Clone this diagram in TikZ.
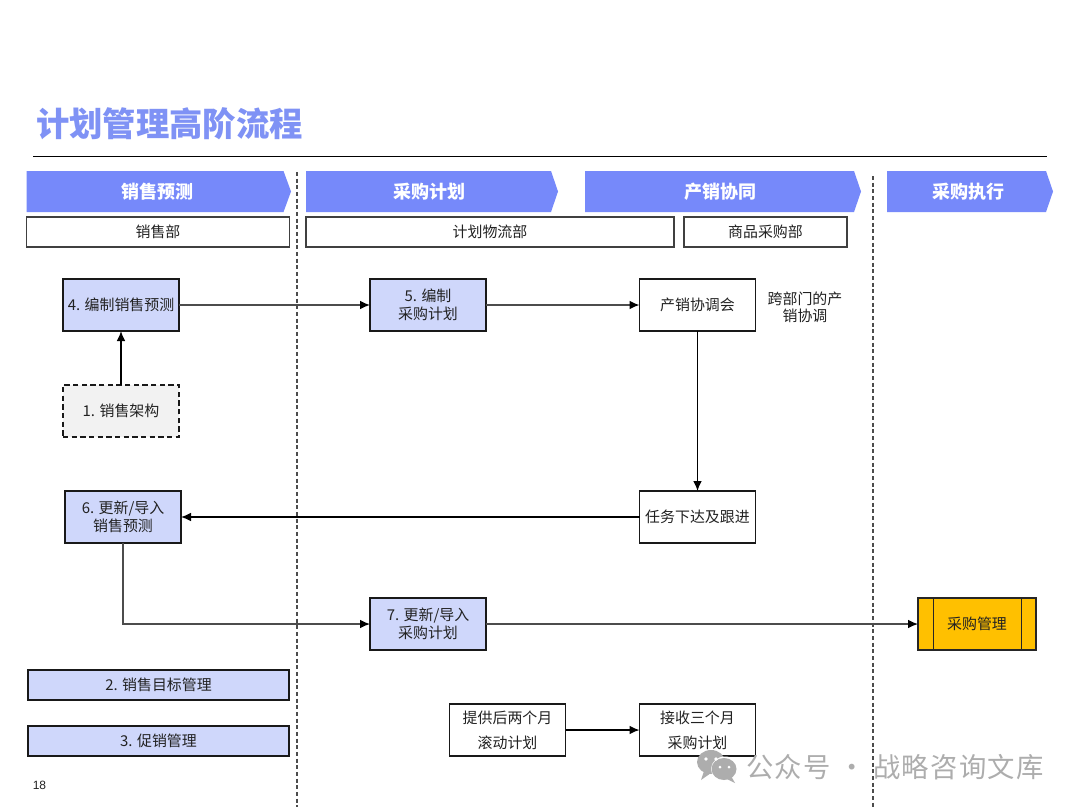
\documentclass[tikz,border=0pt]{standalone}
\usepackage{fontspec}
\setmainfont{Noto Sans CJK SC}
\newfontfamily\latinfont{Liberation Sans}
\newfontfamily\markfont[LetterSpace=5]{Noto Sans CJK SC}
\usetikzlibrary{arrows.meta,positioning}
\definecolor{headblue}{HTML}{7689FA}
\definecolor{titleblue}{HTML}{7F92F5}
\definecolor{paleblue}{HTML}{CFD7FB}
\definecolor{palegray}{HTML}{F2F2F2}
\definecolor{amber}{HTML}{FFC000}
\definecolor{inkdark}{HTML}{222222}
\definecolor{markgray}{HTML}{ADADAD}
\tikzset{
  x=0.75pt,y=-0.75pt,
  px/.style 2 args={minimum width=#1*0.75pt,minimum height=#2*0.75pt,inner sep=0pt,outer sep=0pt},
  basebox/.style={draw=black!90,line width=1pt,align=center,text=inkdark,font=\fontsize{11.2pt}{13.5pt}\selectfont},
  bluebox/.style={basebox,fill=paleblue},
  whitebox/.style={basebox,fill=white},
  dashbox/.style={basebox,fill=palegray,dash pattern=on 4pt off 2.5pt},
  spacedbox/.style={whitebox,font=\fontsize{11.2pt}{18.5pt}\selectfont},
  ownerbox/.style={draw=black!75,line width=0.8pt,fill=white,text=inkdark,font=\fontsize{11.2pt}{13.5pt}\selectfont},
  headtext/.style={text=white,font=\fontsize{13.5pt}{16pt}\selectfont\bfseries},
  headfill/.style={fill=headblue},
  flow/.style={draw=black!70,line width=0.95pt,-{Latex[length=7.5pt,width=6.5pt,black]}},
  flowstrong/.style={draw=black,line width=0.95pt,-{Latex[length=7.5pt,width=6.5pt,black]}},
  lane/.style={draw=black!70,line width=1pt,dash pattern=on 3pt off 2pt},
}
\begin{document}
\begin{tikzpicture}
\useasboundingbox (0,0) rectangle (1080,810);
\fill[white] (0,0) rectangle (1080,810);

% title and rule
\node[anchor=center,text=titleblue,font=\fontsize{25pt}{30pt}\selectfont\bfseries,inner sep=0pt] (title) at (169.5,124) {计划管理高阶流程};
\coordinate (ruleL) at (33,156.5);
\coordinate (ruleR) at (1047,156.5);
\draw[black,line width=0.8pt] (ruleL) -- (ruleR);

% lane separators
\coordinate (laneAt) at (297,172);
\coordinate (laneAb) at (297,807);
\coordinate (laneBt) at (873,176);
\coordinate (laneBb) at (873,807);
\draw[lane] (laneAt) -- (laneAb);
\draw[lane] (laneBt) -- (laneBb);

% phase headers
\fill[headfill] (26.5,171) -- (283.5,171) -- (291,191.5) -- (283.5,212) -- (26.5,212) -- cycle;
\fill[headfill] (306,171) -- (551,171) -- (558,191.5) -- (551,212) -- (306,212) -- cycle;
\fill[headfill] (585,171) -- (854,171) -- (861,191.5) -- (854,212) -- (585,212) -- cycle;
\fill[headfill] (887,171) -- (1046,171) -- (1053,191.5) -- (1046,212) -- (887,212) -- cycle;
\node[headtext] (h1) at (157,191.5) {销售预测};
\node[headtext] (h2) at (429,191.5) {采购计划};
\node[headtext] (h3) at (720.5,191.5) {产销协同};
\node[headtext] (h4) at (968,191.5) {采购执行};

% owners
\node[ownerbox,px={263}{30}] (o1) at (158,232) {销售部};
\node[ownerbox,px={368}{30}] (o2) at (490,232) {计划物流部};
\node[ownerbox,px={163}{30}] (o3) at (765.5,232) {商品采购部};

% process boxes
\node[bluebox,px={116}{52}] (n4) at (121,305) {4. 编制销售预测};
\node[bluebox,px={116}{52}] (n5) at (428,305) {5. 编制\\采购计划};
\node[whitebox,px={116}{52}] (meet) at (697.5,305) {产销协调会};
\node[dashbox,px={116}{52}] (n1) at (121,411) {1. 销售架构};
\node[bluebox,px={116}{52}] (n6) at (123,517) {6. 更新/导入\\销售预测};
\node[whitebox,px={116}{52}] (task) at (697.5,517) {任务下达及跟进};
\node[bluebox,px={116}{52}] (n7) at (428,624) {7. 更新/导入\\采购计划};
\node[bluebox,px={261}{30}] (n2) at (158.5,685) {2. 销售目标管理};
\node[bluebox,px={261}{30}] (n3) at (158.5,741) {3. 促销管理};
\node[spacedbox,px={116}{52}] (roll) at (507.5,730) {提供后两个月\\滚动计划};
\node[spacedbox,px={116}{52}] (recv) at (697.5,730) {接收三个月\\采购计划};

% predefined process
\node[draw=black!85,line width=0.8pt,fill=amber,text=inkdark,font=\fontsize{11.2pt}{13.5pt}\selectfont,px={118}{52}] (buy) at (977,624) {采购管理};
\coordinate (buyLt) at (933,598);
\coordinate (buyLb) at (933,650);
\coordinate (buyRt) at (1021,598);
\coordinate (buyRb) at (1021,650);
\draw[black!85,line width=0.7pt] (buyLt) -- (buyLb);
\draw[black!85,line width=0.7pt] (buyRt) -- (buyRb);

% annotation
\node[align=center,text=inkdark,inner sep=0pt,font=\fontsize{11.2pt}{13pt}\selectfont] (note) at (805,307.5) {跨部门的产\\销协调};

% connectors
\draw[flow] (n4.east) -- (n5.west);
\draw[flow] (n5.east) -- (meet.west);
\draw[flowstrong] (meet.south) -- (task.north);
\draw[flowstrong] (task.west) -- (n6.east);
\draw[flowstrong] (n1.north) -- (n4.south);
\draw[flow] (n6.south) |- (n7.west);
\draw[flow] (n7.east) -- (buy.west);
\draw[flowstrong] (roll.east) -- (recv.west);

% page number
\node[text=inkdark,font=\latinfont\fontsize{9pt}{10pt}\selectfont,inner sep=0pt] (page) at (39.5,785) {18};

% watermark
\fill[markgray] (711,762) ellipse [x radius=14,y radius=12];
\fill[markgray] (704,771) -- (701,780) -- (711,773) -- cycle;
\fill[white] (725,769) ellipse [x radius=14,y radius=12.5];
\fill[markgray] (724,769) ellipse [x radius=12.5,y radius=11];
\fill[markgray] (731,776) -- (735,783) -- (725,778) -- cycle;
\fill[white] (706,759) circle (1.8) (716,759) circle (1.8) (720,767) circle (1.5) (729,767) circle (1.5);
\node[text=markgray,inner sep=0pt,font=\markfont\fontsize{20.5pt}{24pt}\selectfont] (mark) at (895,767) {公众号 · 战略咨询文库};
\end{tikzpicture}
\end{document}
